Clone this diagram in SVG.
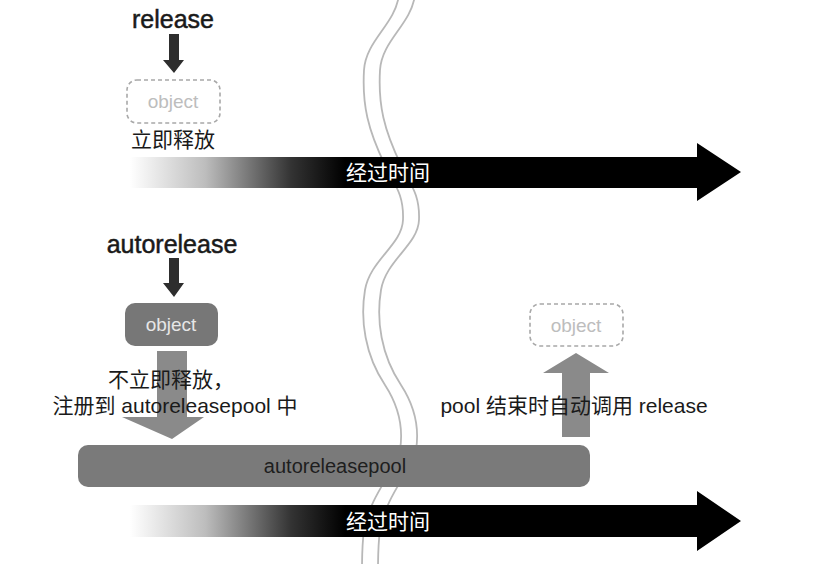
<svg xmlns="http://www.w3.org/2000/svg" width="826" height="564" viewBox="0 0 826 564">
<defs>
<style>
.lat{font-family:"Liberation Sans","Noto Sans CJK SC",sans-serif}
.cjk{font-family:"Liberation Sans","Noto Sans CJK SC",sans-serif}
.wave{fill:none;stroke:#b8b8b8;stroke-width:1.8}
.dash{fill:none;stroke:#a8a8a8;stroke-width:1.6;stroke-dasharray:4 3}
.ghost{fill:#bdbdbd;font-size:19px}
.small{fill:#1a1a1a;font-size:25px;stroke:#1a1a1a;stroke-width:0.5}
.lbl{fill:#1a1a1a;font-size:21px}
.time{fill:#ffffff;font-size:21px}
.bigarrow{fill:#8a8a8a}
.darrow{fill:#2e2e2e}
</style>
<linearGradient id="tg" gradientUnits="userSpaceOnUse" x1="130" y1="0" x2="345" y2="0">
<stop offset="0" stop-color="#ffffff"/>
<stop offset="0.35" stop-color="#bdbdbd"/>
<stop offset="0.75" stop-color="#333333"/>
<stop offset="1" stop-color="#000000"/>
</linearGradient>
</defs>
<rect width="826" height="564" fill="#ffffff"/>

<g id="wave">
<path class="wave" d="M 399 -5 C 395 25, 366 40, 364 70 C 362 105, 368 130, 385 165 C 395 185, 404 195, 403 220 C 402 245, 370 260, 365 290 C 360 320, 365 355, 385 385 C 398 405, 404 425, 400 450 C 396 470, 370 495, 364 530 C 362 545, 362 555, 362 570"/>
<path class="wave" d="M 415 -5 C 411 25, 382 40, 380 70 C 378 105, 384 130, 401 165 C 411 185, 420 195, 419 220 C 418 245, 386 260, 381 290 C 376 320, 381 355, 401 385 C 414 405, 420 425, 416 450 C 412 470, 386 495, 380 530 C 378 545, 378 555, 378 570"/>
</g>

<g id="timeline1">
<path d="M 130 157 L 697 157 L 697 143 L 741 172 L 697 201 L 697 188 L 130 188 Z" fill="url(#tg)"/>
<text class="cjk time" x="388" y="180" text-anchor="middle">经过时间</text>
</g>

<g id="timeline2">
<path d="M 130 505 L 697 505 L 697 491 L 741 521 L 697 551 L 697 537 L 130 537 Z" fill="url(#tg)"/>
<text class="cjk time" x="388" y="529" text-anchor="middle">经过时间</text>
</g>

<g id="release-label">
<text class="lat small" x="173" y="28" text-anchor="middle">release</text>
</g>

<g id="object-released">
<rect class="dash" x="127" y="80" width="93" height="43" rx="10"/>
<text class="lat ghost" x="173" y="108" text-anchor="middle">object</text>
<text class="cjk lbl" x="173" y="147" text-anchor="middle">立即释放</text>
</g>

<g id="autorelease-label">
<text class="lat small" x="172" y="253" text-anchor="middle">autorelease</text>
</g>

<g id="object-auto">
<rect x="125" y="303" width="93" height="43" rx="10" fill="#777777"/>
<text class="lat" x="171" y="331" text-anchor="middle" font-size="19" fill="#e6e6e6">object</text>
</g>

<g id="autoreleasepool">
<rect x="78" y="445" width="512" height="42" rx="10" fill="#7a7a7a"/>
<text class="lat" x="335" y="473" text-anchor="middle" font-size="20" fill="#1e1e1e">autoreleasepool</text>
</g>

<g id="object-pool-released">
<rect class="dash" x="530" y="304" width="93" height="42" rx="10"/>
<text class="lat ghost" x="576" y="332" text-anchor="middle">object</text>
</g>

<g id="connectors">
<path class="darrow" d="M 169 34 L 179 34 L 179 60 L 184 60 L 174 73 L 163 60 L 169 60 Z"/>
<path class="darrow" d="M 169 258 L 179 258 L 179 283 L 184 283 L 174 297 L 163 283 L 169 283 Z"/>
<path class="bigarrow" d="M 157 351 L 187 351 L 187 417 L 204 417 L 172 439 L 122 417 L 157 417 Z"/>
<path class="bigarrow" d="M 562 437 L 562 373 L 543 373 L 576 353 L 609 373 L 590 373 L 590 437 Z"/>
</g>

<g id="labels">
<text class="cjk lbl" x="171" y="387" text-anchor="middle">不立即释放，</text>
<text class="cjk lbl" x="175" y="413" text-anchor="middle">注册到 autoreleasepool 中</text>
<text class="cjk lbl" x="574" y="413" text-anchor="middle">pool 结束时自动调用 release</text>
</g>
</svg>
